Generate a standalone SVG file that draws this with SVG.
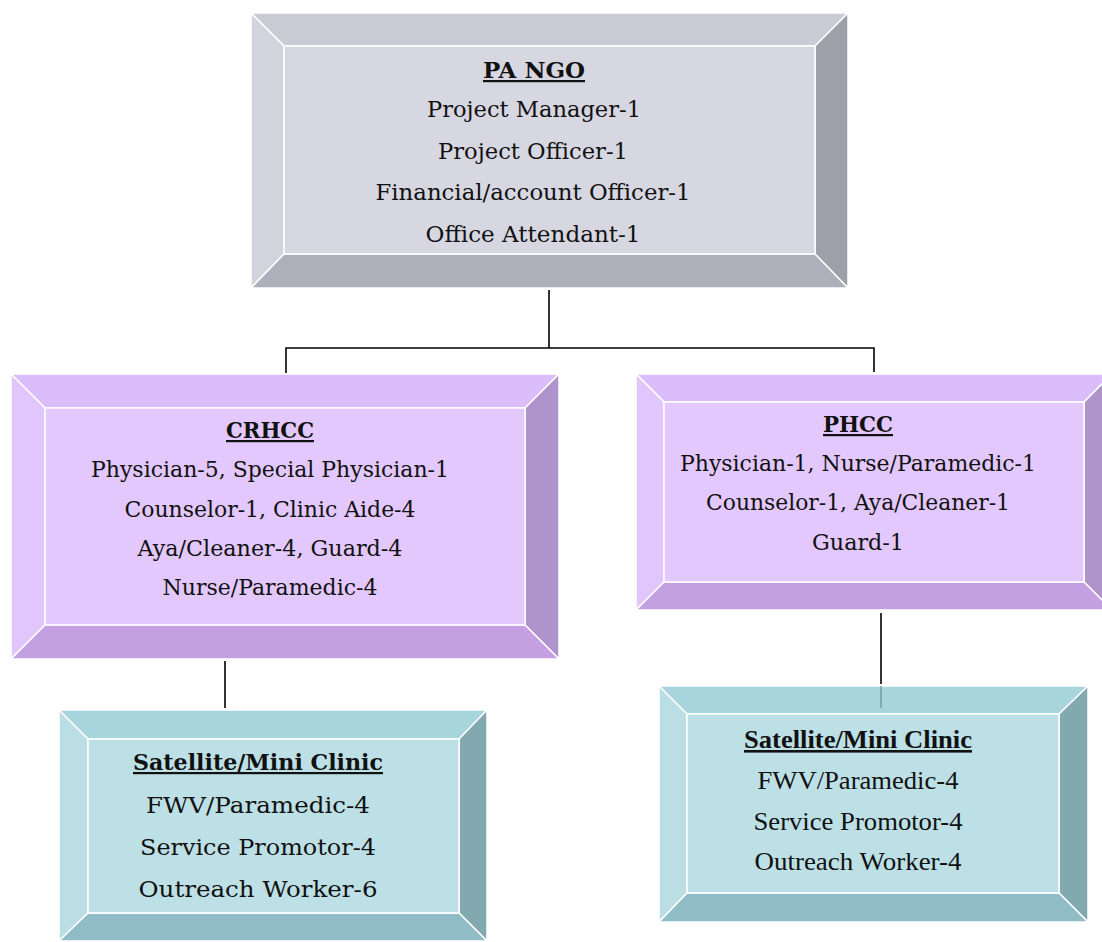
<svg xmlns="http://www.w3.org/2000/svg" width="1102" height="942" viewBox="0 0 1102 942">
  <style>
    .edge { stroke: #ffffff; stroke-width: 1.5; stroke-linejoin: miter; }
    .gray .top { fill: #cbcbd6; } .gray .left { fill: #d3d3de; } .gray .right { fill: #9f9fa9; } .gray .bottom { fill: #afafbb; } .gray .face { fill: #d7d7e2; }
    .lilac .top { fill: #dbbdfb; } .lilac .left { fill: #e0c6fc; } .lilac .right { fill: #ae94cb; } .lilac .bottom { fill: #c4a0e3; } .lilac .face { fill: #e3c8fd; }
    .teal .top { fill: #a8d4dc; } .teal .left { fill: #bbdee4; } .teal .right { fill: #83a9b0; } .teal .bottom { fill: #8fbcc5; } .teal .face { fill: #bde0e6; }
    .t { font-family: "DejaVu Serif", "Liberation Serif", serif; font-size: 22px; fill: #111111; text-anchor: middle; }
    .tr { font-family: "Liberation Serif", "Times New Roman", serif; font-size: 26px; fill: #111111; text-anchor: middle; }
    .h { font-weight: bold; text-decoration: underline; }
    .conn { stroke: #000000; stroke-width: 1.6; fill: none; }
  </style>

  <!-- PA NGO -->
  <g id="pa-ngo" class="gray">
    <polygon class="top edge" points="251,13 848,13 815,46 284,46"/>
    <polygon class="left edge" points="251,13 284,46 284,254 251,288"/>
    <polygon class="right edge" points="848,13 848,288 815,254 815,46"/>
    <polygon class="bottom edge" points="251,288 284,254 815,254 848,288"/>
    <rect class="face edge" x="284" y="46" width="531" height="208"/>
    <text class="t h" x="534" y="78" textLength="102" lengthAdjust="spacingAndGlyphs">PA NGO</text>
    <text class="t" x="534" y="117" textLength="214" lengthAdjust="spacingAndGlyphs">Project Manager-1</text>
    <text class="t" x="533" y="159" textLength="190" lengthAdjust="spacingAndGlyphs">Project Officer-1</text>
    <text class="t" x="533" y="200" textLength="315" lengthAdjust="spacingAndGlyphs">Financial/account Officer-1</text>
    <text class="t" x="533" y="242" textLength="215" lengthAdjust="spacingAndGlyphs">Office Attendant-1</text>
  </g>

  <!-- CRHCC -->
  <g id="crhcc" class="lilac">
    <polygon class="top edge" points="11,374 559,374 525,408 45,408"/>
    <polygon class="left edge" points="11,374 45,408 45,625 11,659"/>
    <polygon class="right edge" points="559,374 559,659 525,625 525,408"/>
    <polygon class="bottom edge" points="11,659 45,625 525,625 559,659"/>
    <rect class="face edge" x="45" y="408" width="480" height="217"/>
    <text class="t h" x="270" y="438" textLength="88" lengthAdjust="spacingAndGlyphs">CRHCC</text>
    <text class="t" x="270" y="477" textLength="358" lengthAdjust="spacingAndGlyphs">Physician-5, Special Physician-1</text>
    <text class="t" x="270" y="517" textLength="291" lengthAdjust="spacingAndGlyphs">Counselor-1, Clinic Aide-4</text>
    <text class="t" x="270" y="556" textLength="265" lengthAdjust="spacingAndGlyphs">Aya/Cleaner-4, Guard-4</text>
    <text class="t" x="270" y="595" textLength="215" lengthAdjust="spacingAndGlyphs">Nurse/Paramedic-4</text>
  </g>

  <!-- PHCC -->
  <g id="phcc" class="lilac">
    <polygon class="top edge" points="636,374 1112,374 1084,402 664,402"/>
    <polygon class="left edge" points="636,374 664,402 664,582 636,610"/>
    <polygon class="right edge" points="1112,374 1112,610 1084,582 1084,402"/>
    <polygon class="bottom edge" points="636,610 664,582 1084,582 1112,610"/>
    <rect class="face edge" x="664" y="402" width="420" height="180"/>
    <text class="t h" x="858" y="432" textLength="70" lengthAdjust="spacingAndGlyphs">PHCC</text>
    <text class="t" x="858" y="471" textLength="356" lengthAdjust="spacingAndGlyphs">Physician-1, Nurse/Paramedic-1</text>
    <text class="t" x="858" y="510" textLength="304" lengthAdjust="spacingAndGlyphs">Counselor-1, Aya/Cleaner-1</text>
    <text class="t" x="858" y="550" textLength="92" lengthAdjust="spacingAndGlyphs">Guard-1</text>
  </g>

  <!-- Satellite / Mini Clinic under CRHCC -->
  <g id="satellite-left" class="teal">
    <polygon class="top edge" points="59,710 487,710 459,739 88,739"/>
    <polygon class="left edge" points="59,710 88,739 88,913 59,941"/>
    <polygon class="right edge" points="487,710 487,941 459,913 459,739"/>
    <polygon class="bottom edge" points="59,941 88,913 459,913 487,941"/>
    <rect class="face edge" x="88" y="739" width="371" height="174"/>
    <text class="t h" x="258" y="770" textLength="250" lengthAdjust="spacingAndGlyphs">Satellite/Mini Clinic</text>
    <text class="t" x="258" y="813" textLength="224" lengthAdjust="spacingAndGlyphs">FWV/Paramedic-4</text>
    <text class="t" x="258" y="855" textLength="236" lengthAdjust="spacingAndGlyphs">Service Promotor-4</text>
    <text class="t" x="258" y="897" textLength="239" lengthAdjust="spacingAndGlyphs">Outreach Worker-6</text>
  </g>

  <!-- Satellite / Mini Clinic under PHCC -->
  <g id="satellite-right" class="teal">
    <polygon class="top edge" points="659,686 1088,686 1059,714 687,714"/>
    <polygon class="left edge" points="659,686 687,714 687,893 659,922"/>
    <polygon class="right edge" points="1088,686 1088,922 1059,893 1059,714"/>
    <polygon class="bottom edge" points="659,922 687,893 1059,893 1088,922"/>
    <rect class="face edge" x="687" y="714" width="372" height="179"/>
    <text class="tr h" x="858" y="748" textLength="228" lengthAdjust="spacingAndGlyphs">Satellite/Mini Clinic</text>
    <text class="tr" x="858" y="789" textLength="201" lengthAdjust="spacingAndGlyphs">FWV/Paramedic-4</text>
    <text class="tr" x="858" y="830" textLength="209" lengthAdjust="spacingAndGlyphs">Service Promotor-4</text>
    <text class="tr" x="858" y="870" textLength="207" lengthAdjust="spacingAndGlyphs">Outreach Worker-4</text>
  </g>

  <!-- Connectors -->
  <g id="connectors">
    <polyline class="conn" points="549,290 549,348"/>
    <polyline class="conn" points="286,373 286,348 874,348 874,372"/>
    <line class="conn" x1="225" y1="661" x2="225" y2="708"/>
    <line class="conn" x1="881" y1="613" x2="881" y2="684"/>
    <line x1="881" y1="686" x2="881" y2="708" stroke="#6f9aa2" stroke-width="1.4"/>
  </g>
</svg>
